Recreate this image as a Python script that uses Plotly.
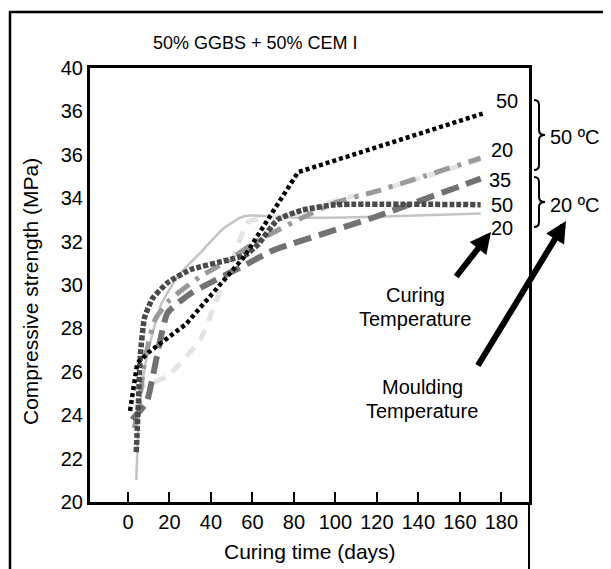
import plotly.graph_objects as go

# ---- data (curing time in days, compressive strength in MPa as drawn) ----
days_m50_c50 = [1, 3, 4.5, 10, 28, 56, 82, 171]
str_m50_c50 = [24.2, 25.5, 26.4, 26.9, 28.2, 31.3, 35.2, 37.9]

days_m20_c50 = [4, 5, 6, 8, 12, 19, 30, 48, 57, 63, 72, 84, 100, 170]
str_m20_c50 = [22.3, 24.5, 26.8, 28.5, 29.4, 30.1, 30.7, 31.15, 31.4, 31.9, 33.0, 33.45, 33.7, 33.7]

days_m20_c35 = [2, 9, 12, 19, 30, 56, 70, 118, 170]
str_m20_c35 = [23.8, 24.6, 25.8, 28.7, 29.6, 30.9, 31.6, 33.1, 34.9]

days_m50_c20 = [3, 5, 8, 13, 20, 35, 48, 60, 84, 100, 119, 170]
str_m50_c20 = [23.4, 24.2, 26.5, 28.4, 29.3, 30.4, 31.1, 31.9, 33.1, 33.8, 34.3, 35.85]

days_pale = [3, 19, 35, 41, 51, 58, 84, 100, 119, 170]
str_pale = [25.2, 25.8, 27.5, 28.9, 31.3, 32.9, 33.3, 33.9, 34.3, 35.8]

days_m20_c20 = [4, 5, 7, 10, 16, 24, 36, 46, 54, 59, 84, 120, 170]
str_m20_c20 = [21.0, 23.5, 25.5, 27.1, 29.1, 30.4, 31.6, 32.6, 33.1, 33.2, 33.1, 33.15, 33.3]

y_tickvals = [20, 22, 24, 26, 28, 30, 32, 34, 36, 38, 40]
y_ticktext = ["20", "22", "24", "26", "28", "30", "32", "34", "36", "36", "40"]
x_tickvals = [0, 20, 40, 60, 80, 100, 120, 140, 160, 180]
end_labels = ["50", "20", "35", "50", "20"]

FONT = "Liberation Sans, Arial, sans-serif"

fig = go.Figure()

def add(x, y, color, width, dash, shape="spline", smoothing=0.45):
    fig.add_trace(go.Scatter(x=x, y=y, mode="lines",
                             line=dict(color=color, width=width, dash=dash,
                                       shape=shape, smoothing=smoothing),
                             showlegend=False, hoverinfo="skip"))

add(days_m20_c20, str_m20_c20, "#c4c4c4", 2.5, "solid")
add(days_pale, str_pale, "#e4e4e4", 5, "12px,9px")
add(days_m50_c20, str_m50_c20, "#9a9a9a", 5, "16px,8px,4px,8px")
add(days_m20_c35, str_m20_c35, "#727272", 6, "18px,8px")
add(days_m20_c50, str_m20_c50, "#4a4a4a", 5.5, "5px,2px")
add(days_m50_c50, str_m50_c50, "#000000", 4.5, "4px,3px", shape="linear")

# the page has an 8px body margin: figure coords = reference coords - 8
O = 8
W, H = 611 - O, 569 - O
L, T, R, B = 90 - O, 68 - O, 529 - O, 502 - O

def P(px):  # reference pixel x -> paper
    return (px - O - L) / (R - L)
def Q(py):  # reference pixel y -> paper
    return (B - (py - O)) / (B - T)

fig.update_layout(
    width=W, height=H,
    margin=dict(l=L, r=W - R, t=T, b=H - B, pad=0),
    paper_bgcolor="white", plot_bgcolor="white",
    font=dict(family=FONT, size=20, color="black"),
    xaxis=dict(range=[-18.3, 193.3], tickvals=x_tickvals, ticks="inside",
               ticklen=10, tickwidth=2, tickcolor="black",
               showline=True, linewidth=3, linecolor="black", mirror=True,
               showgrid=False, zeroline=False, tickfont=dict(size=20)),
    yaxis=dict(range=[20, 40], tickvals=y_tickvals, ticktext=y_ticktext,
               ticks="", showline=True, linewidth=3, linecolor="black",
               mirror=True, showgrid=False, zeroline=False,
               tickfont=dict(size=20)),
    yaxis2=dict(range=[20, 40], overlaying="y", anchor="x", side="left",
                tickvals=[24, 28, 32, 36], ticks="inside", ticklen=16,
                tickwidth=3, tickcolor="black", showticklabels=False,
                showline=False, showgrid=False, zeroline=False),
)

shapes = []
# outer frame
shapes.append(dict(type="path", xref="paper", yref="paper",
                   path=f"M {P(10)} {Q(600)} L {P(10)} {Q(12)} L {P(640)} {Q(12)}",
                   line=dict(color="black", width=2.5)))
# right border extension
shapes.append(dict(type="line", xref="paper", yref="paper",
                   x0=1, x1=1, y0=0, y1=Q(600), line=dict(color="black", width=2)))

def brace(top, bot, x0=534, x1=539, xt=545):
    mid = (top + bot) / 2
    return (f"M {P(x0)} {Q(top)} Q {P(x1)} {Q(top)} {P(x1)} {Q(top+5)} "
            f"L {P(x1)} {Q(mid-5)} Q {P(x1)} {Q(mid)} {P(xt)} {Q(mid)} "
            f"Q {P(x1)} {Q(mid)} {P(x1)} {Q(mid+5)} "
            f"L {P(x1)} {Q(bot-5)} Q {P(x1)} {Q(bot)} {P(x0)} {Q(bot)}")

shapes.append(dict(type="path", xref="paper", yref="paper", path=brace(100, 170),
                   line=dict(color="black", width=2)))
shapes.append(dict(type="path", xref="paper", yref="paper", path=brace(177, 227),
                   line=dict(color="black", width=2)))
fig.update_layout(shapes=shapes)

ann = []
def text(px, py, s, size=20, xanchor="center", angle=0):
    ann.append(dict(x=P(px), y=Q(py), xref="paper", yref="paper", text=s,
                    showarrow=False, xanchor=xanchor, yanchor="middle",
                    textangle=angle, font=dict(size=size, family=FONT, color="black")))

text(255, 43, "50% GGBS + 50% CEM I", size=18)
text(310, 551, "Curing time (days)", size=21)
text(30, 292, "Compressive strength (MPa)", size=21, angle=-90)

label_pos = [(507, 101), (502, 150), (500, 180), (502, 205), (502, 228)]
for (px, py), s in zip(label_pos, end_labels):
    text(px, py, s, size=20)

text(548, 137, "50 ºC", size=20, xanchor="left")
text(548, 205, "20 ºC", size=20, xanchor="left")
text(415, 295, "Curing", size=20)
text(415, 319, "Temperature", size=20)
text(422, 387, "Moulding", size=20)
text(422, 411, "Temperature", size=20)

# arrows
ann.append(dict(x=P(491), y=Q(232), xref="paper", yref="paper", ax=-36, ay=46,
                axref="pixel", ayref="pixel", text="", showarrow=True,
                arrowhead=2, arrowsize=0.7, arrowwidth=6, arrowcolor="black", standoff=0))
ann.append(dict(x=P(566), y=Q(221), xref="paper", yref="paper", ax=-89, ay=146,
                axref="pixel", ayref="pixel", text="", showarrow=True,
                arrowhead=2, arrowsize=0.7, arrowwidth=6, arrowcolor="black", standoff=0))
fig.update_layout(annotations=ann)

fig.write_html("out.html")
